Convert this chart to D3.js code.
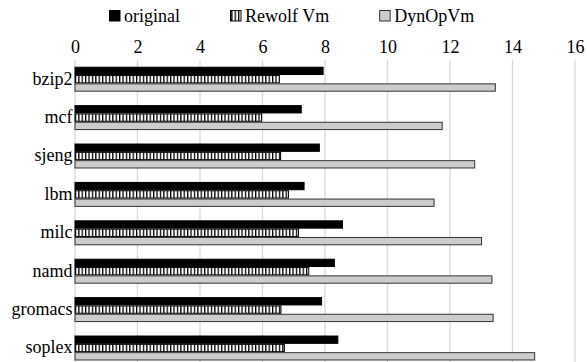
<!DOCTYPE html>
<html>
<head>
<meta charset="utf-8">
<script src="https://cdn.jsdelivr.net/npm/d3@7"></script>
</head>
<body style="margin:0;background:#fff">
<svg id="chart" width="587" height="362" style="display:block"></svg>
<script>
const categories = ["bzip2", "mcf", "sjeng", "lbm", "milc", "namd", "gromacs", "soplex"];
const seriesNames = ["original", "Rewolf Vm", "DynOpVm"];
const originalValues = [7.94, 7.24, 7.82, 7.33, 8.56, 8.30, 7.89, 8.41];
const rewolfValues   = [6.54, 5.97, 6.58, 6.83, 7.15, 7.48, 6.59, 6.70];
const dynopValues    = [13.45, 11.75, 12.79, 11.49, 13.01, 13.34, 13.38, 14.71];
const tickValues = [0, 2, 4, 6, 8, 10, 12, 14, 16];

const seriesValues = [originalValues, rewolfValues, dynopValues];
const FONT = '"Liberation Serif", monospace';

const svg = d3.select("#chart");
const W = 587, H = 362;
const mLeft = 75, mRight = 575, mTop = 60, mBottom = 367.2;

const defs = svg.append("defs");
const pat = defs.append("pattern")
  .attr("id", "stripes")
  .attr("patternUnits", "userSpaceOnUse")
  .attr("width", 3.4).attr("height", 10);
pat.append("rect").attr("width", 3.4).attr("height", 10).attr("fill", "#fff");
pat.append("rect").attr("x", 0).attr("width", 1.3).attr("height", 10).attr("fill", "#000");

const styles = [
  { fill: "#000", stroke: "#000" },
  { fill: "url(#stripes)", stroke: "#000" },
  { fill: "#cccccc", stroke: "#333" }
];

const x = d3.scaleLinear().domain([0, 16]).range([mLeft, mRight]);
const y = d3.scaleBand().domain(categories).range([mTop, mBottom])
  .paddingInner(0.35).paddingOuter(0.175);
const ys = d3.scaleBand().domain(d3.range(seriesNames.length)).range([0, y.bandwidth()]);

// gridlines
svg.append("g").selectAll("line").data(tickValues).join("line")
  .attr("x1", d => x(d)).attr("x2", d => x(d))
  .attr("y1", mTop).attr("y2", H)
  .attr("stroke", "#d9d9d9").attr("stroke-width", 1.3);

// top axis labels (positions from the axis scale)
const axis = d3.axisTop(x).tickValues(tickValues).tickSize(0).tickPadding(0);
const ag = svg.append("g").attr("transform", `translate(0,53)`).call(axis);
ag.attr("font-family", null).attr("font-size", null);
ag.select(".domain").remove();
ag.selectAll("text")
  .style("font-family", FONT).style("font-size", "18px")
  .attr("fill", "#000").attr("dy", 0);

// bars
const groups = svg.append("g").selectAll("g").data(categories).join("g")
  .attr("transform", d => `translate(0,${y(d)})`);
groups.selectAll("rect")
  .data((c, i) => seriesValues.map((vals, s) => ({ s, v: vals[i] })))
  .join("rect")
  .attr("x", x(0))
  .attr("y", d => ys(d.s) + 0.5)
  .attr("width", d => x(d.v) - x(0))
  .attr("height", ys.bandwidth() - 1)
  .attr("fill", d => styles[d.s].fill)
  .attr("stroke", d => styles[d.s].stroke)
  .attr("stroke-width", 1);

// category labels
svg.append("g").selectAll("text").data(categories).join("text")
  .attr("x", 72.5)
  .attr("y", d => y(d) + y.bandwidth() / 2)
  .attr("dy", "0.3em")
  .attr("text-anchor", "end")
  .style("font-family", FONT).style("font-size", "18px")
  .text(d => d);

// legend
const lg = svg.append("g");
let lx = 109;
seriesNames.forEach((name, s) => {
  lg.append("rect").attr("x", lx + 0.5).attr("y", 10.5).attr("width", 10.5).attr("height", 10.5)
    .attr("fill", styles[s].fill).attr("stroke", styles[s].stroke).attr("stroke-width", 1);
  const t = lg.append("text").attr("x", lx + 15).attr("y", 22)
    .style("font-family", FONT).style("font-size", "18px").text(name);
  lx = lx + 15 + t.node().getComputedTextLength() + 50;
});
</script>
</body>
</html>
